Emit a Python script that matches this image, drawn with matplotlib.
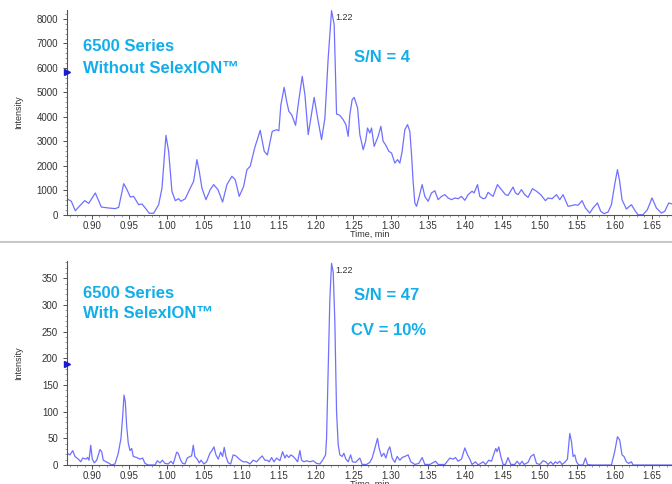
"""Zwei Chromatogramme (6500 ohne/mit SelexION) untereinander."""

import matplotlib

matplotlib.use("Agg")
import matplotlib.pyplot as plt
from matplotlib.ticker import MultipleLocator, FormatStrFormatter

plt.rcParams["font.family"] = ["Liberation Sans", "DejaVu Sans"]

# --- oberes Chromatogramm: ohne SelexION ---
zeit_oben = [0.8665, 0.8723, 0.8776, 0.8830, 0.8902, 0.8956, 0.9044, 0.9125, 0.9224, 0.9312,
             0.9358, 0.9425, 0.9469, 0.9513, 0.9558, 0.9625, 0.9670, 0.9714, 0.9767, 0.9826,
             0.9893, 0.9938, 0.9991, 1.0027, 1.0071, 1.0116, 1.0161, 1.0192, 1.0250, 1.0317,
             1.0362, 1.0406, 1.0437, 1.0473, 1.0527, 1.0584, 1.0630, 1.0688, 1.0750, 1.0808,
             1.0875, 1.0919, 1.0973, 1.1032, 1.1076, 1.1120, 1.1179, 1.1254, 1.1308, 1.1350,
             1.1415, 1.1474, 1.1504, 1.1531, 1.1575, 1.1608, 1.1638, 1.1675, 1.1728, 1.1763,
             1.1817, 1.1853, 1.1897, 1.1933, 1.1977, 1.2023, 1.2076, 1.2121, 1.2165, 1.2210,
             1.2245, 1.2277, 1.2321, 1.2366, 1.2402, 1.2433, 1.2455, 1.2486, 1.2513, 1.2559,
             1.2589, 1.2634, 1.2666, 1.2692, 1.2723, 1.2746, 1.2781, 1.2834, 1.2871, 1.2901,
             1.2933, 1.2978, 1.3014, 1.3058, 1.3094, 1.3125, 1.3156, 1.3192, 1.3228, 1.3259,
             1.3282, 1.3303, 1.3326, 1.3349, 1.3379, 1.3424, 1.3460, 1.3504, 1.3549, 1.3594,
             1.3638, 1.3684, 1.3728, 1.3772, 1.3817, 1.3862, 1.3906, 1.3951, 1.3996, 1.4040,
             1.4093, 1.4120, 1.4166, 1.4196, 1.4241, 1.4273, 1.4308, 1.4344, 1.4374, 1.4433,
             1.4487, 1.4540, 1.4575, 1.4642, 1.4674, 1.4709, 1.4755, 1.4799, 1.4843, 1.4902,
             1.4956, 1.5013, 1.5076, 1.5111, 1.5165, 1.5224, 1.5268, 1.5312, 1.5379, 1.5425,
             1.5469, 1.5513, 1.5567, 1.5612, 1.5670, 1.5714, 1.5773, 1.5817, 1.5861, 1.5915,
             1.5960, 1.6004, 1.6041, 1.6071, 1.6102, 1.6161, 1.6228, 1.6282, 1.6317, 1.6383,
             1.6442, 1.6504, 1.6563, 1.6630, 1.6674, 1.6728, 1.6772]
int_oben = [665, 560, 175, 355, 585, 475, 900, 325, 285, 260,
            315, 1280, 1035, 735, 760, 420, 450, 285, 70, 70,
            420, 1100, 3250, 2600, 970, 585, 665, 560, 665, 1100,
            1375, 2260, 1785, 1100, 625, 1035, 1240, 1035, 530, 1240,
            1580, 1440, 760, 1170, 1850, 1990, 2730, 3455, 2600, 2450,
            3415, 3480, 3440, 4500, 5210, 4640, 4230, 4095, 3660, 4500,
            5660, 4910, 3280, 3960, 4800, 3960, 3075, 3960, 6410, 8340,
            7770, 4120, 4070, 3890, 3690, 3210, 4095, 4705, 4800, 4370,
            3280, 2665, 3010, 3550, 3345, 3550, 2800, 3210, 3620, 3010,
            2870, 2600, 2530, 2120, 2260, 2120, 2600, 3480, 3690, 3415,
            2460, 1375, 490, 355, 695, 1240, 760, 560, 900, 990,
            625, 760, 830, 695, 625, 695, 665, 760, 600, 830,
            970, 900, 1240, 760, 665, 695, 925, 830, 760, 1240,
            1035, 830, 800, 1140, 900, 830, 1035, 830, 720, 1075,
            970, 830, 585, 695, 665, 830, 625, 830, 355, 380,
            420, 395, 585, 285, 80, 285, 490, 150, 55, 120,
            420, 1240, 1850, 1375, 625, 245, 420, 150, 10, 10,
            215, 695, 285, 80, 150, 490, 450]

# --- unteres Chromatogramm: mit SelexION ---
zeit_unten = [0.8665, 0.8705, 0.8742, 0.8772, 0.8817, 0.8849, 0.8875, 0.8920, 0.8942, 0.8960,
              0.8983, 0.9004, 0.9031, 0.9063, 0.9107, 0.9130, 0.9151, 0.9188, 0.9218, 0.9264,
              0.9308, 0.9352, 0.9388, 0.9411, 0.9429, 0.9446, 0.9465, 0.9486, 0.9509, 0.9532,
              0.9553, 0.9599, 0.9643, 0.9679, 0.9710, 0.9754, 0.9844, 0.9875, 0.9911, 0.9942,
              0.9978, 1.0022, 1.0058, 1.0089, 1.0134, 1.0156, 1.0188, 1.0215, 1.0246, 1.0276,
              1.0313, 1.0335, 1.0357, 1.0379, 1.0410, 1.0437, 1.0460, 1.0500, 1.0536, 1.0580,
              1.0607, 1.0634, 1.0661, 1.0692, 1.0724, 1.0750, 1.0772, 1.0795, 1.0825, 1.0858,
              1.0892, 1.0929, 1.0959, 1.0992, 1.1026, 1.1072, 1.1116, 1.1160, 1.1206, 1.1250,
              1.1281, 1.1317, 1.1348, 1.1375, 1.1407, 1.1438, 1.1474, 1.1518, 1.1554, 1.1585,
              1.1607, 1.1638, 1.1665, 1.1696, 1.1728, 1.1755, 1.1786, 1.1808, 1.1839, 1.1875,
              1.1920, 1.1964, 1.2009, 1.2054, 1.2090, 1.2130, 1.2143, 1.2157, 1.2187, 1.2210,
              1.2232, 1.2254, 1.2277, 1.2299, 1.2321, 1.2352, 1.2375, 1.2402, 1.2433, 1.2465,
              1.2491, 1.2531, 1.2589, 1.2620, 1.2679, 1.2723, 1.2754, 1.2790, 1.2826, 1.2848,
              1.2880, 1.2911, 1.2938, 1.2968, 1.2991, 1.3022, 1.3058, 1.3089, 1.3125, 1.3156,
              1.3192, 1.3236, 1.3272, 1.3326, 1.3379, 1.3424, 1.3460, 1.3527, 1.3603, 1.3638,
              1.3728, 1.3795, 1.3839, 1.3871, 1.3906, 1.3951, 1.3996, 1.4032, 1.4063, 1.4093,
              1.4139, 1.4174, 1.4241, 1.4273, 1.4317, 1.4353, 1.4388, 1.4411, 1.4428, 1.4451,
              1.4478, 1.4509, 1.4541, 1.4575, 1.4612, 1.4665, 1.4696, 1.4732, 1.4763, 1.4790,
              1.4843, 1.4880, 1.4920, 1.4956, 1.5000, 1.5044, 1.5080, 1.5111, 1.5147, 1.5178,
              1.5210, 1.5237, 1.5268, 1.5299, 1.5335, 1.5371, 1.5402, 1.5425, 1.5446, 1.5469,
              1.5492, 1.5522, 1.5580, 1.5612, 1.5639, 1.5692, 1.5960, 1.6004, 1.6041, 1.6071,
              1.6102, 1.6129, 1.6161, 1.6192, 1.6228, 1.6250, 1.6777]
int_unten = [22, 19, 27, 16, 11, 6, 13, 11, 14, 9,
             37, 11, 4, 9, 29, 25, 9, 6, 4, 0,
             2, 22, 50, 91, 131, 119, 72, 41, 27, 31,
             16, 14, 11, 13, 3, 0, 0, 8, 4, 9,
             3, 2, 7, 2, 24, 22, 9, 3, 2, 13,
             16, 17, 37, 16, 11, 4, 9, 2, 6, 22,
             27, 34, 19, 11, 24, 16, 33, 16, 4, 2,
             19, 17, 13, 9, 6, 6, 2, 9, 6, 13,
             17, 9, 9, 6, 14, 6, 13, 8, 25, 13,
             19, 14, 19, 16, 11, 6, 27, 9, 6, 8,
             6, 8, 3, 2, 9, 19, 50, 131, 310, 378,
             362, 269, 100, 38, 19, 16, 22, 11, 6, 19,
             6, 5, 13, 1, 1, 5, 13, 31, 50, 31,
             16, 22, 13, 28, 34, 13, 5, 16, 9, 14,
             16, 19, 6, 1, 3, 14, 1, 1, 7, 1,
             1, 13, 11, 14, 7, 11, 32, 19, 11, 1,
             6, 0, 6, 1, 9, 7, 22, 31, 25, 34,
             16, 1, 1, 14, 1, 1, 7, 1, 7, 1,
             5, 16, 20, 3, 1, 8, 6, 1, 6, 1,
             6, 3, 7, 1, 5, 11, 59, 44, 16, 19,
             6, 0, 0, 13, 1, 0, 0, 25, 53, 47,
             19, 16, 6, 3, 6, 0, 0]

x_ticks = [0.90, 0.95, 1.00, 1.05, 1.10, 1.15, 1.20, 1.25, 1.30, 1.35,
           1.40, 1.45, 1.50, 1.55, 1.60, 1.65]
spitze_zeit = 1.221
spitze_label = "1.22"
marker_hoehe = [5850, 190]  # blaue Pfeile links an der y-Achse

W, H = 672, 484
TXT = "#12aeea"
LINIE = "#7070ff"

fig = plt.figure(figsize=(W / 100, H / 100), dpi=100)


def px(x, y):
    return x / W, 1 - y / H


def panel(rect, t, y, ylim, ymaj, ymin, marker):
    ax = fig.add_axes(rect)
    ax.plot(t, y, color=LINIE, lw=0.9)
    ax.set_xlim(0.8665, 1.6772)
    ax.set_ylim(0, ylim)
    ax.set_xticks(x_ticks)
    ax.xaxis.set_major_formatter(FormatStrFormatter("%.2f"))
    ax.xaxis.set_minor_locator(MultipleLocator(0.01))
    ax.yaxis.set_major_locator(MultipleLocator(ymaj))
    ax.yaxis.set_minor_locator(MultipleLocator(ymin))
    for s in ("top", "right"):
        ax.spines[s].set_visible(False)
    for s in ("left", "bottom"):
        ax.spines[s].set_color("#555555")
        ax.spines[s].set_linewidth(0.8)
    ax.tick_params(labelsize=7, colors="#333333", length=3, width=0.6)
    ax.tick_params(axis="x", pad=1.5)
    ax.tick_params(which="minor", length=1.5, width=0.5, colors="#777777")
    ax.set_ylabel("Intensity", fontsize=6.5, color="#333333")
    ax.yaxis.set_label_coords(-44 / (W - 67), 0.5)
    ax.set_xlabel("Time, min", fontsize=6.5, color="#333333", labelpad=-1)
    ax.plot([0.8665], [marker], marker=">", ms=4, color="#1b1bd0",
            clip_on=False, zorder=5)
    top = max(y)
    ax.annotate(spitze_label, (spitze_zeit, top), xytext=(3, -7),
                textcoords="offset points", fontsize=6.5, color="#333333")
    return ax


panel([67 / W, 1 - 215 / H, 1 - 67 / W, 205 / H], zeit_oben, int_oben,
      8367, 1000, 200, marker_hoehe[0])
panel([67 / W, 1 - 465 / H, 1 - 67 / W, 204.3 / H], zeit_unten, int_unten,
      383, 50, 10, marker_hoehe[1])

# graue Trennlinie zwischen den Panels
fig.add_artist(plt.Line2D([0, 1], [1 - 241.5 / H] * 2, color="#c8c8c8", lw=1.5))

kw = dict(color=TXT, fontsize=12, fontweight="bold", va="top", ha="left")
fig.text(*px(83, 39), "6500 Series\nWithout SelexION™", linespacing=1.6, **kw)
fig.text(*px(354, 50), "S/N = 4", **kw)
fig.text(*px(83, 286), "6500 Series\nWith SelexION™", linespacing=1.45, **kw)
fig.text(*px(354, 288), "S/N = 47", **kw)
fig.text(*px(351, 323), "CV = 10%", **kw)

fig.savefig("out.png", dpi=100)
plt.close(fig)
